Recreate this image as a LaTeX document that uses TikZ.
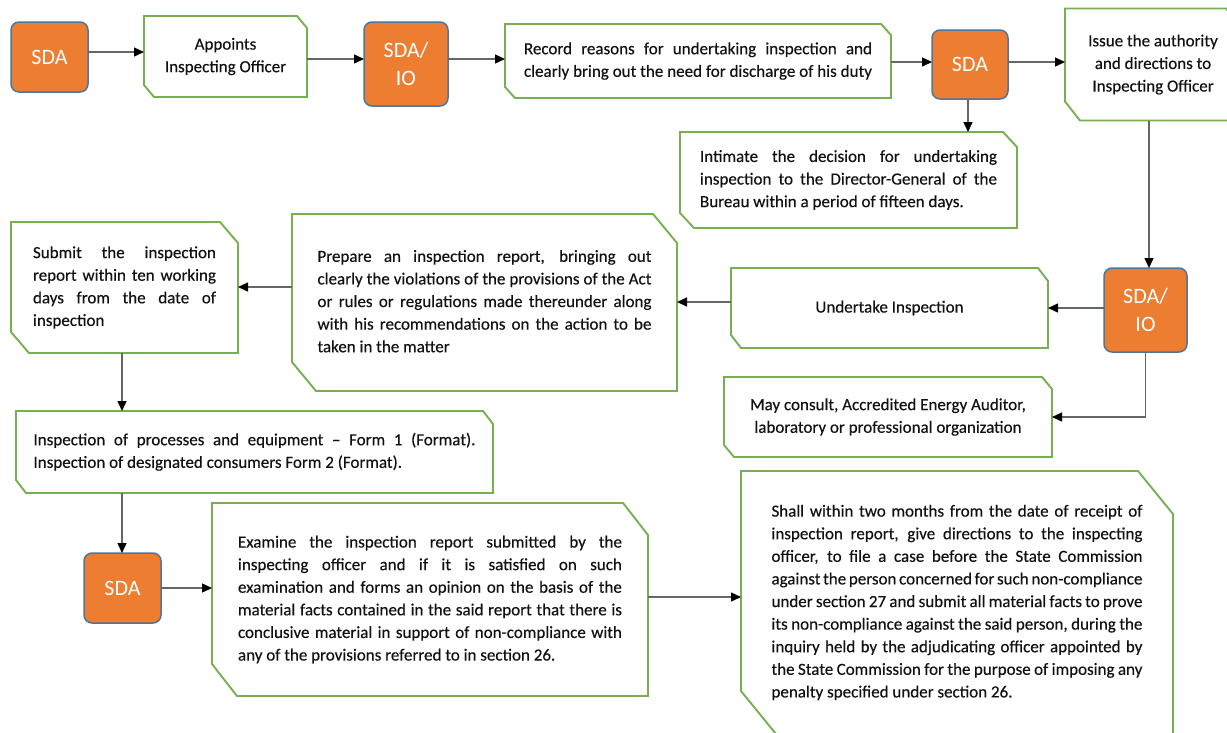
\documentclass[tikz,border=0pt]{standalone}
\usepackage{fontspec}
\setmainfont{Carlito}[UprightFeatures={FakeBold=0.35}]
\newfontfamily\sdafont{Carlito}
\usetikzlibrary{arrows.meta}
\definecolor{orng}{HTML}{ED7D31}
\definecolor{obord}{HTML}{4A76A0}
\definecolor{grn}{HTML}{76B050}
\definecolor{lgray}{HTML}{666666}
\definecolor{txt}{HTML}{111111}
\newcommand\jl[2]{\makebox[#1][s]{#2}}
\newcommand\snip[3]{\draw[gline] (#1.north west) -- ([xshift=-#2pt]#1.north east) -- ([yshift=-#3pt]#1.north east) -- (#1.south east) -- ([xshift=#2pt]#1.south west) -- ([yshift=#3pt]#1.south west) -- cycle;}
\tikzset{
  gb/.style={inner sep=0pt, outer sep=0pt, text=txt, font=\fontsize{17}{22.6}\selectfont},
  gline/.style={draw=grn, line width=1.9pt, line join=miter},
  ob/.style={draw=obord, fill=orng, rounded corners=8pt, line width=1.5pt, inner sep=0pt, outer sep=0pt, text=white, font=\sdafont\fontsize{22}{28}\selectfont, align=center},
  arr/.style={draw=lgray, line width=1.4pt, -{Triangle[length=10pt,width=9pt,color=black]}}
}
\begin{document}
\begin{tikzpicture}[x=1pt,y=-1pt]
\useasboundingbox (0,0) rectangle (1227,732);
\clip (0,0) rectangle (1227,732);
% orange boxes
\node[ob, minimum width=77pt, minimum height=70pt] (sda1) at (49.5,57) {SDA};
\node[ob, minimum width=84pt, minimum height=84pt] (sdaio1) at (406,64) {SDA/\\IO};
\node[ob, minimum width=76pt, minimum height=69pt] (sda2) at (970,64.5) {SDA};
\node[ob, minimum width=83pt, minimum height=84pt] (sdaio2) at (1145.5,310) {SDA/\\IO};
\node[ob, minimum width=77pt, minimum height=70pt] (sda3) at (122.5,588) {SDA};
% green boxes
\node[gb, minimum width=163pt, minimum height=81pt, align=center] (app) at (225.5,56.5) {Appoints\\Inspecting Officer};
\snip{app}{10}{12}
\node[gb, minimum width=386pt, minimum height=74pt] (rec) at (698,61) {\begin{tabular}{@{}l@{}}\jl{348pt}{Record reasons for undertaking inspection and}\\\jl{348pt}{clearly bring out the need for discharge of his duty}\end{tabular}};
\snip{rec}{10}{11}
\node[gb, minimum width=176pt, minimum height=112pt, align=center] (iss) at (1153,64.5) {Issue the authority\\and directions to\\Inspecting Officer};
\snip{iss}{15}{19}
\node[gb, minimum width=337pt, minimum height=96pt] (int) at (848.5,180) {\begin{tabular}{@{}l@{}}\jl{297pt}{Intimate the decision for undertaking}\\\jl{297pt}{inspection to the Director-General of the}\\Bureau within a period of fifteen days.\end{tabular}};
\snip{int}{14}{15}
\node[gb, minimum width=317pt, minimum height=80pt, align=center] (und) at (889.5,308) {Undertake Inspection};
\snip{und}{10}{13}
\node[gb, minimum width=328pt, minimum height=80pt, align=center] (may) at (888,417) {May consult, Accredited Energy Auditor,\\laboratory or professional organization};
\snip{may}{10}{12}
\node[gb, minimum width=385pt, minimum height=177pt] (prep) at (484.5,302.5) {\begin{tabular}{@{}l@{}}\jl{334pt}{Prepare an inspection report, bringing out}\\\jl{334pt}{clearly the violations of the provisions of the Act}\\\jl{334pt}{or rules or regulations made thereunder along}\\\jl{334pt}{with his recommendations on the action to be}\\taken in the matter\end{tabular}};
\snip{prep}{24}{29}
\node[gb, minimum width=227pt, minimum height=131pt] (sub) at (124.5,287.5) {\begin{tabular}{@{}l@{}}\jl{183pt}{Submit the inspection}\\\jl{183pt}{report within ten working}\\\jl{183pt}{days from the date of}\\inspection\end{tabular}};
\snip{sub}{18}{21}
\node[gb, minimum width=477pt, minimum height=82pt] (insp) at (254.5,452) {\begin{tabular}{@{}l@{}}\jl{442pt}{Inspection of processes and equipment -- Form 1 (Format).}\\Inspection of designated consumers Form 2 (Format).\end{tabular}};
\snip{insp}{10}{13}
\node[gb, minimum width=436pt, minimum height=193pt] (exam) at (430,599.5) {\begin{tabular}{@{}l@{}}\jl{384pt}{Examine the inspection report submitted by the}\\\jl{384pt}{inspecting officer and if it is satisfied on such}\\\jl{384pt}{examination and forms an opinion on the basis of the}\\\jl{384pt}{material facts contained in the said report that there is}\\\jl{384pt}{conclusive material in support of non-compliance with}\\any of the provisions referred to in section 26.\end{tabular}};
\snip{exam}{25}{32}
\node[gb, minimum width=432pt, minimum height=263pt] (shall) at (957,602.5) {\begin{tabular}{@{}l@{}}\jl{371pt}{Shall within two months from the date of receipt of}\\\jl{371pt}{inspection report, give directions to the inspecting}\\\jl{371pt}{officer, to file a case before the State Commission}\\\jl{371pt}{against the person concerned for such non-compliance}\\\jl{371pt}{under section 27 and submit all material facts to prove}\\\jl{371pt}{its non-compliance against the said person, during the}\\\jl{371pt}{inquiry held by the adjudicating officer appointed by}\\\jl{371pt}{the State Commission for the purpose of imposing any}\\penalty specified under section 26.\end{tabular}};
\snip{shall}{35}{43}
% helper coordinates
\coordinate (y52) at (0,52);
\coordinate (y59) at (0,59);
\coordinate (y62) at (0,62);
\coordinate (y287) at (0,287);
\coordinate (y302) at (0,302);
\coordinate (y308) at (0,308);
\coordinate (y597) at (0,597);
\coordinate (x968) at (968,0);
\coordinate (x1149) at (1149,0);
\coordinate (x122) at (122,0);
% connectors
\draw[arr] (sda1.east |- y52) -- (app.west |- y52);
\draw[arr] (app.east |- y59) -- (sdaio1.west |- y59);
\draw[arr] (sdaio1.east |- y59) -- (rec.west |- y59);
\draw[arr] (rec.east |- y62) -- (sda2.west |- y62);
\draw[arr] (sda2.east |- y62) -- (iss.west |- y62);
\draw[arr] (sda2.south -| x968) -- (int.north -| x968);
\draw[arr] (iss.south -| x1149) -- (sdaio2.north -| x1149);
\draw[arr] (sdaio2.west |- y308) -- (und.east |- y308);
\draw[arr] (sdaio2.south) |- (may.east);
\draw[arr] (und.west |- y302) -- (prep.east |- y302);
\draw[arr] (prep.west |- y287) -- (sub.east |- y287);
\draw[arr] (sub.south -| x122) -- (insp.north -| x122);
\draw[arr] (insp.south -| x122) -- (sda3.north -| x122);
\draw[arr] (sda3.east) -- (sda3.east -| exam.west);
\draw[arr] (exam.east |- y597) -- (shall.west |- y597);
\end{tikzpicture}
\end{document}
